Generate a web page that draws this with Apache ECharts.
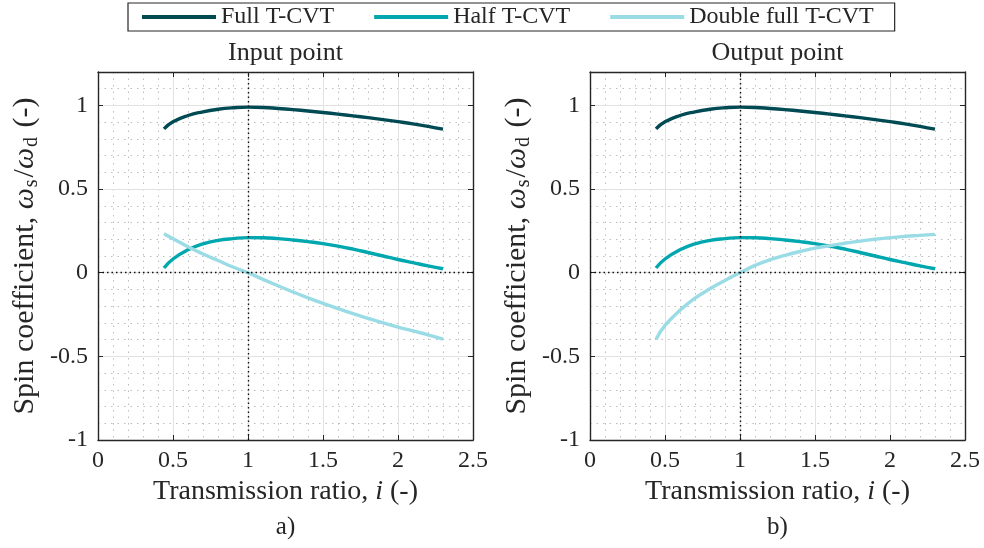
<!DOCTYPE html>
<html>
<head>
<meta charset="utf-8">
<script src="https://cdn.jsdelivr.net/npm/echarts@6/dist/echarts.min.js"></script>
<style>html,body{margin:0;padding:0;background:#fff}#c{width:984px;height:548px}</style>
</head>
<body>
<div id="c"></div>
<script>
// ---- data ----
const ratio = [0.44, 0.5, 0.6, 0.7, 0.8, 0.9, 1.0, 1.1, 1.2, 1.3, 1.4, 1.5, 1.6, 1.7, 1.8, 1.9, 2.0, 2.1, 2.2, 2.3];
const fullTCVT = [0.86, 0.902, 0.94, 0.962, 0.977, 0.986, 0.99, 0.988, 0.982, 0.975, 0.967, 0.958, 0.948, 0.938, 0.927, 0.915, 0.903, 0.89, 0.875, 0.858];
const halfTCVT = [0.028, 0.082, 0.137, 0.172, 0.193, 0.204, 0.21, 0.209, 0.204, 0.196, 0.186, 0.174, 0.159, 0.141, 0.121, 0.1, 0.079, 0.06, 0.041, 0.024];
const doubleInput = [0.233, 0.203, 0.155, 0.112, 0.073, 0.034, 0.0, -0.04, -0.078, -0.115, -0.15, -0.183, -0.215, -0.245, -0.273, -0.3, -0.325, -0.348, -0.371, -0.397];
const doubleOutput = [-0.399, -0.315, -0.225, -0.152, -0.096, -0.046, 0.0, 0.044, 0.078, 0.104, 0.127, 0.147, 0.162, 0.176, 0.189, 0.2, 0.209, 0.217, 0.223, 0.229];
const seriesNames = ['Full T-CVT', 'Half T-CVT', 'Double full T-CVT'];
const panelTitles = ['Input point', 'Output point'];
const panelTags = ['a)', 'b)'];
const xTicks = [0, 2.5, 0.5];   // min, max, step
const yTicks = [-1, 1.2, 0.5];  // min, max, step

// ---- styling ----
const FONT = "'Liberation Serif', 'Times New Roman', serif";
const TXT = '#262626';
const colors = ['#004a54', '#00a7ae', '#9adce5'];
const grids = [
  {left: 98, top: 72, width: 375, height: 368},
  {left: 590, top: 72, width: 375, height: 368}
];

const xAxes = [], yAxes = [], series = [];
const panelData = [
  [fullTCVT, halfTCVT, doubleInput],
  [fullTCVT, halfTCVT, doubleOutput]
];
const frameLine = {show: true, onZero: false, lineStyle: {color: TXT, width: 1.4}};
const tick = {show: true, inside: true, length: 5, lineStyle: {color: TXT, width: 1}};

grids.forEach((g, gi) => {
  // minor grid x (drawn first)
  xAxes.push({
    type: 'value', gridIndex: gi, min: xTicks[0], max: xTicks[1], interval: 0.1,
    position: 'bottom', z: 0,
    axisLine: {show: false}, axisTick: {show: false}, axisLabel: {show: false},
    splitLine: {show: true, lineStyle: {color: '#bdbdbd', width: 1, type: [1.5, 5]}}
  });
  // main x
  xAxes.push({
    type: 'value', gridIndex: gi, min: xTicks[0], max: xTicks[1], interval: xTicks[2],
    position: 'bottom', z: 2,
    axisLine: frameLine, axisTick: tick,
    axisLabel: {show: true, margin: 9, color: TXT, fontFamily: FONT, fontSize: 24},
    splitLine: {show: true, lineStyle: {color: '#e2e2e2', width: 1}},
    name: '{t|Transmission ratio, }{i|i}{t| (-)}',
    nameLocation: 'middle', nameGap: 33,
    nameTextStyle: {
      color: TXT, fontFamily: FONT, fontSize: 28,
      rich: {t: {fontFamily: FONT, fontSize: 28, color: TXT}, i: {fontFamily: FONT, fontSize: 28, fontStyle: 'italic', color: TXT}}
    }
  });
  // top mirror
  xAxes.push({
    type: 'value', gridIndex: gi, min: xTicks[0], max: xTicks[1], interval: xTicks[2],
    position: 'top', z: 2,
    axisLine: frameLine, axisTick: tick,
    axisLabel: {show: false}, splitLine: {show: false}
  });

  // minor grid y
  yAxes.push({
    type: 'value', gridIndex: gi, min: yTicks[0], max: yTicks[1], interval: 0.1,
    position: 'left', z: 0,
    axisLine: {show: false}, axisTick: {show: false}, axisLabel: {show: false},
    splitLine: {show: true, lineStyle: {color: '#bdbdbd', width: 1, type: [1.5, 5]}}
  });
  // main y
  yAxes.push({
    type: 'value', gridIndex: gi, min: yTicks[0], max: yTicks[1], interval: yTicks[2],
    position: 'left', z: 2,
    axisLine: frameLine, axisTick: tick,
    axisLabel: {show: true, margin: 10, color: TXT, fontFamily: FONT, fontSize: 24, showMaxLabel: false,
      formatter: v => (Math.abs(v - 1.2) < 1e-9 ? '' : String(v))},
    splitLine: {show: true, lineStyle: {color: '#e2e2e2', width: 1}},
    name: '{t|Spin coefficient, }{w|ω}{s|s}{t|/}{w|ω}{s|d}{t| (-)}',
    nameLocation: 'middle', nameGap: 56, nameRotate: 90,
    nameTextStyle: {
      color: TXT, fontFamily: FONT, fontSize: 30,
      rich: {
        t: {fontFamily: FONT, fontSize: 30, color: TXT, lineHeight: 34, verticalAlign: 'middle'},
        w: {fontFamily: FONT, fontSize: 30, fontStyle: 'italic', color: TXT, lineHeight: 34, verticalAlign: 'middle'},
        s: {fontFamily: FONT, fontSize: 20, color: TXT, lineHeight: 8, verticalAlign: 'bottom', padding: [0, 2, 0, 1]}
      }
    }
  });
  // right mirror
  yAxes.push({
    type: 'value', gridIndex: gi, min: yTicks[0], max: yTicks[1], interval: yTicks[2],
    position: 'right', z: 2,
    axisLine: frameLine, axisTick: tick,
    axisLabel: {show: false}, splitLine: {show: false}
  });

  const xi = gi * 3 + 1, yi = gi * 3 + 1;
  // reference lines (x = 1, y = 0)
  series.push({
    type: 'line', xAxisIndex: xi, yAxisIndex: yi, data: [], z: 1, silent: true,
    markLine: {
      silent: true, symbol: 'none', animation: false,
      label: {show: false},
      lineStyle: {color: '#111', width: 1.4, type: [1.5, 3]},
      data: [{yAxis: 0}, {xAxis: 1}]
    }
  });

  panelData[gi].forEach((vals, si) => {
    series.push({
      name: seriesNames[si], type: 'line',
      xAxisIndex: xi, yAxisIndex: yi,
      data: ratio.map((x, k) => [x, vals[k]]),
      smooth: 0.5,
      showSymbol: false, symbol: 'none',
      lineStyle: {color: colors[si], width: 3.4, cap: 'butt', join: 'round'},
      itemStyle: {color: colors[si]},
      z: 3, animation: false
    });
  });
});

const option = {
  animation: false,
  backgroundColor: '#fff',
  grid: grids.map(g => Object.assign({show: true, borderColor: TXT, borderWidth: 0, backgroundColor: '#fff'}, g)),
  xAxis: xAxes,
  yAxis: yAxes,
  legend: {
    left: 128, top: 3,
    orient: 'horizontal',
    icon: 'rect', itemWidth: 74, itemHeight: 4, itemGap: 40,
    padding: [2, 21, 2, 14],
    borderColor: '#262626', borderWidth: 1.2, backgroundColor: '#fff',
    textStyle: {color: TXT, fontFamily: FONT, fontSize: 24},
    data: seriesNames
  },
  graphic: [
    ...panelTitles.map((t, i) => ({
      type: 'text', x: grids[i].left + grids[i].width / 2, y: 53,
      style: {text: t, fill: TXT, font: '26px ' + FONT, align: 'center', verticalAlign: 'middle'}
    })),
    ...panelTags.map((t, i) => ({
      type: 'text', x: grids[i].left + grids[i].width / 2, y: 527,
      style: {text: t, fill: TXT, font: '25px ' + FONT, align: 'center', verticalAlign: 'middle'}
    }))
  ],
  series: series
};

const chart = echarts.init(document.getElementById('c'), null, {renderer: 'canvas'});
chart.setOption(option);
</script>
</body>
</html>
